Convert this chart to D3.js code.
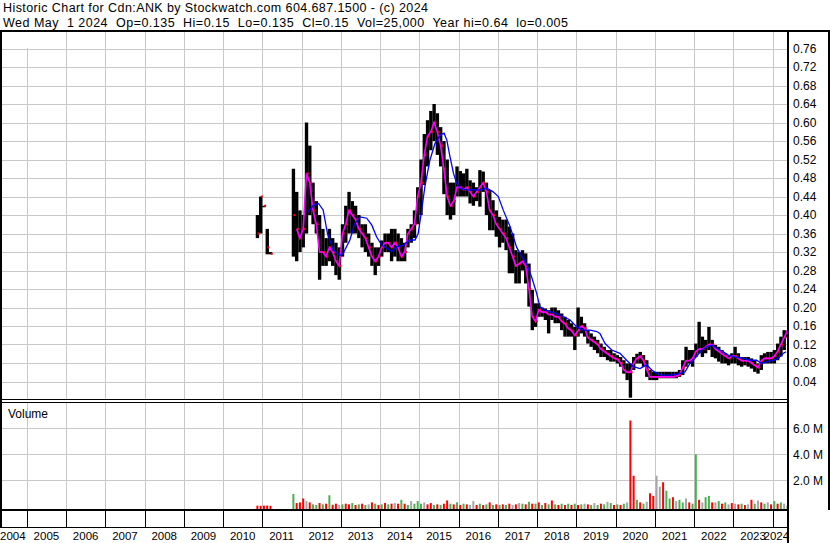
<!DOCTYPE html>
<html><head><meta charset="utf-8">
<script src="https://cdn.jsdelivr.net/npm/d3@7"></script>
<style>
html,body{margin:0;padding:0;background:#fff;}
svg{display:block;font-family:"Liberation Sans",Arial,sans-serif;}
</style></head><body>
<svg id="c" width="830" height="543"></svg>
<script>
// ---------- DATA (monthly) ----------
const firstMonth = "2010-11";
const maFirstMonth = "2011-11";
const high = [
 .40,.44,
 .42,.37,.32,null,null,null,null,null,null,.50,.45,.41,
 .40,.60,.55,.47,.43,.40,.37,.35,.37,.35,.34,.33,
 .38,.42,.45,.43,.42,.40,.38,.38,.36,.34,.33,.33,
 .345,.36,.36,.37,.37,.36,.35,.34,.37,.38,.41,.46,
 .52,.575,.605,.625,.64,.62,.59,.56,.52,.47,.47,.505,
 .495,.49,.50,.475,.47,.46,.497,.494,.47,.454,.432,.41,
 .396,.39,.39,.375,.36,.324,.32,.324,.317,.295,.238,.209,
 .209,.20,.198,.194,.20,.20,.194,.187,.18,.173,.166,.158,
 .20,.18,.166,.151,.144,.137,.13,.122,.115,.108,.108,.101,
 .097,.093,.086,.079,.079,.093,.10,.104,.097,.086,.065,.061,
 .061,.061,.061,.061,.061,.061,.061,.065,.086,.115,.108,.108,
 .122,.169,.137,.13,.158,.13,.119,.115,.108,.101,.097,.101,
 .115,.101,.093,.093,.093,.09,.086,.079,.097,.101,.104,.104,
 .108,.122,.137,.151,.15
];
const low = [
 .35,.36,
 .42,.315,.315,null,null,null,null,null,null,.31,.30,.32,
 .33,.36,.40,.38,.36,.26,.29,.29,.30,.29,.27,.26,
 .31,.34,.36,.36,.36,.35,.33,.32,.31,.29,.27,.29,
 .31,.32,.32,.30,.31,.30,.30,.30,.33,.34,.35,.38,
 .40,.465,.505,.54,.56,.53,.505,.445,.40,.39,.40,.44,
 .44,.44,.44,.425,.42,.43,.418,.45,.40,.367,.367,.353,
 .33,.34,.324,.274,.274,.252,.252,.28,.252,.202,.151,.158,
 .18,.18,.173,.144,.173,.166,.166,.151,.137,.137,.137,.108,
 .137,.144,.137,.122,.115,.108,.101,.093,.093,.086,.083,.083,
 .079,.072,.057,.043,.005,.065,.079,.079,.072,.05,.043,.043,
 .043,.047,.047,.047,.047,.047,.047,.05,.054,.072,.079,.072,
 .093,.101,.093,.101,.108,.093,.09,.083,.079,.079,.075,.079,
 .079,.075,.072,.075,.072,.068,.061,.057,.065,.079,.079,.079,
 .079,.086,.094,.108,.135
];
const close = [
 .36,.44,
 .42,.33,.316,null,null,null,null,null,null,.40,.37,.35,
 .37,.49,.47,.41,.38,.32,.32,.31,.33,.32,.30,.29,
 .36,.38,.41,.40,.39,.37,.36,.35,.33,.31,.30,.31,
 .33,.34,.34,.33,.34,.33,.31,.32,.36,.37,.38,.44,
 .47,.53,.57,.58,.60,.58,.55,.50,.44,.42,.43,.46,
 .46,.455,.46,.45,.44,.45,.46,.47,.45,.41,.40,.38,
 .37,.36,.35,.33,.31,.29,.295,.30,.29,.24,.18,.17,
 .195,.19,.19,.185,.185,.18,.18,.17,.165,.155,.15,.14,
 .15,.16,.155,.135,.13,.125,.12,.11,.105,.10,.095,.09,
 .088,.08,.065,.06,.06,.08,.09,.095,.085,.065,.05,.05,
 .05,.05,.05,.05,.05,.05,.052,.055,.07,.085,.085,.09,
 .105,.11,.11,.115,.12,.12,.11,.105,.10,.095,.09,.095,
 .095,.09,.085,.085,.085,.08,.075,.07,.085,.09,.09,.09,
 .095,.105,.12,.135,.15
];
// volume in millions (largest daily volume in the month)
const volume = [
 .05,.04,
 .05,.06,.04,null,null,null,null,null,null,.95,.25,.3,
 .6,.4,.3,.15,.1,.25,.15,.2,.85,.12,.2,.1,
 .15,.2,.15,.25,.1,.15,.2,.1,.15,.3,.2,.1,
 .15,.25,.15,.2,.25,.2,.5,.2,.1,.4,.2,.4,
 .2,.3,.15,.25,.1,.15,.1,.2,.45,.2,.15,.3,
 .1,.2,.15,.1,.4,.1,.2,.1,.15,.3,.1,.15,
 .1,.15,.1,.2,.1,.15,.25,.2,.15,.35,.2,.2,
 .3,.1,.25,.15,.45,.15,.1,.2,.1,.2,.1,.2,
 .1,.15,.2,.15,.1,.25,.1,.2,.15,.35,.25,.1,
 .15,.1,.2,.3,6.6,2.35,.5,.3,.2,.35,1.0,.8,
 2.35,1.5,1.85,1.2,.6,.7,.4,.5,.3,.6,.3,.2,
 4.0,.5,.3,.7,.8,.3,.3,.4,.2,.3,.15,.25,
 .2,.15,.2,.1,.15,.5,.2,.45,.3,.2,.3,.15,
 .4,.2,.3,.2,.05
];
// r = down day (red), g = up day (green), k = unchanged (gray)
const volDirection = [
 "rr","rrr------grr","rkrggrgrgrrk","grrgrgrgkrgr","grgrkrgrgkgg",
 "gkrrgrgrrgrg","rgrkkrgrgrgr","grgrkrkgrgrg","rgrgrgrgrgrg","rgkrgkgrgkgr",
 "grgkrrgrgkrr","kkrggrkggkrg","grkggrkgrgkr","krgrkrgkrgkr","grgkg"
].join("").split("");
// long moving average (blue)
const blueT = [2012.17,2012.30,2012.43,2012.55,2012.66,2012.81,2012.98,2013.06,2013.23,2013.36,2013.49,2013.66,2013.79,2013.91,
 2014.04,2014.17,2014.30,2014.42,2014.59,2014.76,2014.89,2014.97,2015.06,2015.14,2015.27,2015.40,2015.53,2015.63,2015.70,2015.78,
 2015.87,2015.95,2016.04,2016.21,2016.37,2016.55,2016.72,2016.88,2017.01,2017.14,2017.31,2017.48,2017.61,2017.73,2017.86,2017.99,
 2018.07,2018.20,2018.33,2018.50,2018.67,2018.84,2019.01,2019.18,2019.35,2019.52,2019.60,2019.73,2019.90,2020.11,2020.28,2020.45,
 2020.62,2020.79,2020.92,2021.05,2021.17,2021.38,2021.64,2021.77,2021.89,2022.06,2022.19,2022.32,2022.45,2022.57,2022.74,2022.87,
 2023.04,2023.25,2023.42,2023.59,2023.72,2023.85,2024.02,2024.14,2024.27,2024.34];
const blueV = [.407,.421,.425,.411,.360,.324,.313,.317,.346,.382,.396,.393,.378,.353,
 .335,.328,.321,.331,.335,.346,.346,.360,.411,.461,.519,.555,.573,.577,.562,.526,
 .490,.469,.458,.454,.455,.454,.458,.45,.44,.41,.375,.33,.31,.295,.266,.23,
 .202,.194,.191,.187,.18,.173,.158,.151,.151,.148,.144,.122,.108,.101,.086,.072,
 .068,.076,.065,.057,.054,.054,.057,.061,.079,.094,.108,.115,.119,.112,.104,.097,
 .093,.09,.086,.086,.079,.083,.086,.09,.101,.104];
const priceTicks = ["0.04","0.08","0.12","0.16","0.20","0.24","0.28","0.32","0.36","0.40","0.44","0.48","0.52","0.56","0.60","0.64","0.68","0.72","0.76"];
const volTicks = [2,4,6];
const volTickLabels = ["2.0 M","4.0 M","6.0 M"];
const years = [2004,2005,2006,2007,2008,2009,2010,2011,2012,2013,2014,2015,2016,2017,2018,2019,2020,2021,2022,2023,2024];
const headerLines = [
 "Historic Chart for Cdn:ANK by Stockwatch.com 604.687.1500 - (c) 2024",
 "Wed May  1 2024  Op=0.135  Hi=0.15  Lo=0.135  Cl=0.15  Vol=25,000  Year hi=0.64  lo=0.005"
];
const symbolLabel = "Cdn:ANK";
const volumeLabel = "Volume";

// ---------- DRAW ----------
const svg = d3.select("#c");
const [fy, fm] = firstMonth.split("-").map(Number);
const [my, mm] = maFirstMonth.split("-").map(Number);
const maStartIdx = (my - fy) * 12 + (mm - fm);
const tAt = i => fy + (fm - 1 + i) / 12 + 1/24;
const rows = high.map((h, i) => ({i, t: tAt(i), h, l: low[i], c: close[i], v: volume[i], d: volDirection[i]}));

const x = d3.scaleLinear().domain([2011, 2024]).range([262.3, 772.7]);
const yP = d3.scaleLinear().domain([0, 0.76]).range([400, 48.5]);
const yV = d3.scaleLinear().domain([0, 6]).range([506.3, 428.3]);
const plotR = 788;
const monthW = x(2011 + 1/12) - x(2011);

svg.append("rect").attr("width", 830).attr("height", 543).attr("fill", "#fff");
const defs = svg.append("defs");
defs.append("clipPath").attr("id", "cp").append("rect").attr("x", 2).attr("y", 32).attr("width", plotR - 2).attr("height", 368);
defs.append("clipPath").attr("id", "cv").append("rect").attr("x", 2).attr("y", 404).attr("width", plotR - 2).attr("height", 105);

const grid = svg.append("g").attr("stroke", "#c8c8c8").attr("stroke-width", 1).attr("shape-rendering", "crispEdges");
priceTicks.forEach(p => {
  const yy = Math.round(yP(+p)) + 0.5;
  grid.append("line").attr("x1", 2).attr("x2", plotR).attr("y1", yy).attr("y2", yy);
});
volTicks.forEach(v => {
  const yy = Math.round(yV(v)) + 0.5;
  grid.append("line").attr("x1", 2).attr("x2", plotR).attr("y1", yy).attr("y2", yy);
});
years.slice(1).forEach(Y => {
  const xx = Math.round(x(Y)) + 0.5;
  grid.append("line").attr("x1", xx).attr("x2", xx).attr("y1", 32).attr("y2", 400);
  grid.append("line").attr("x1", xx).attr("x2", xx).attr("y1", 403).attr("y2", 509);
});

// price bars
const gp = svg.append("g").attr("clip-path", "url(#cp)");
const valid = rows.filter(r => r.h != null);
gp.selectAll("rect.bar").data(valid).join("rect")
  .attr("x", r => x(r.t) - monthW / 2).attr("width", monthW + 0.1)
  .attr("y", r => yP(r.h)).attr("height", r => Math.max(1.5, yP(r.l) - yP(r.h)))
  .attr("fill", "#000");
gp.selectAll("rect.cl").data(valid).join("rect")
  .attr("x", r => x(r.t) + 0.2).attr("width", 2)
  .attr("y", r => yP(r.c) - 1).attr("height", 2)
  .attr("fill", "#ff0000");
// short MA (magenta) through closes
gp.append("path").datum(rows.filter(r => r.i >= maStartIdx))
  .attr("d", d3.line().defined(r => r.c != null).x(r => x(r.t)).y(r => yP(r.c)))
  .attr("fill", "none").attr("stroke", "#ff00ff").attr("stroke-width", 1.6);
// long MA (blue)
gp.append("path").datum(blueT.map((t, i) => [t, blueV[i]]))
  .attr("d", d3.line().x(d => x(d[0])).y(d => yP(d[1])))
  .attr("fill", "none").attr("stroke", "#0000ff").attr("stroke-width", 1.3);

// volume
const volColor = {r: "#ff0000", g: "#4caf50", k: "#a6a6a6"};
const gv = svg.append("g").attr("clip-path", "url(#cv)");
gv.selectAll("rect").data(rows.filter(r => r.v != null)).join("rect")
  .attr("x", r => x(r.t) - 1).attr("width", 2)
  .attr("y", r => yV(r.v)).attr("height", r => 509 - yV(r.v))
  .attr("fill", r => volColor[r.d]);

// frame
const frame = svg.append("g").attr("fill", "#000").attr("shape-rendering", "crispEdges");
frame.append("rect").attr("x", 0).attr("y", 30).attr("width", 830).attr("height", 2);
frame.append("rect").attr("x", 0).attr("y", 30).attr("width", 2).attr("height", 497);
frame.append("rect").attr("x", plotR - 1).attr("y", 30).attr("width", 2).attr("height", 513);
frame.append("rect").attr("x", 828).attr("y", 30).attr("width", 2).attr("height", 480);
frame.append("rect").attr("x", 0).attr("y", 399).attr("width", plotR).attr("height", 1.3);
frame.append("rect").attr("x", 0).attr("y", 402).attr("width", plotR).attr("height", 1.3);
frame.append("rect").attr("x", 0).attr("y", 509).attr("width", plotR).attr("height", 2);
frame.append("rect").attr("x", 0).attr("y", 527).attr("width", plotR).attr("height", 1);
years.slice(1).forEach(Y => {
  frame.append("rect").attr("x", Math.round(x(Y))).attr("y", 511).attr("width", 1).attr("height", 16);
});

// texts
const txt = svg.append("g").attr("fill", "#000").style("font-size", "12px");
const headerWidths = [425, 565];
headerLines.forEach((s, i) => {
  txt.append("text").attr("x", 3).attr("y", 12 + i * 14.5)
    .style("font-size", "12.5px").style("white-space", "pre").attr("xml:space", "preserve")
    .attr("textLength", headerWidths[i]).attr("lengthAdjust", "spacing").text(s);
});
svg.append("rect").attr("x", 2).attr("y", 32).attr("width", 63).attr("height", 16).attr("fill", "#fff");
txt.append("text").attr("x", 9).attr("y", 45).text(symbolLabel);
txt.append("text").attr("x", 8).attr("y", 418).text(volumeLabel);
priceTicks.forEach(p => {
  txt.append("text").attr("x", 793).attr("y", yP(+p)).attr("dy", "0.36em").text(p);
});
volTicks.forEach((v, i) => {
  txt.append("text").attr("x", 793).attr("y", yV(v)).attr("dy", "0.36em").text(volTickLabels[i]);
});
years.forEach(Y => {
  const w = 25.5;
  let left = x(Y + 0.5) - w / 2;
  if (left < 0) left = 0;
  if (left + w > 789) left = 789 - w;
  txt.append("text").attr("x", left).attr("y", 540).style("font-size", "11.5px").text(String(Y));
});
</script>
</body></html>
